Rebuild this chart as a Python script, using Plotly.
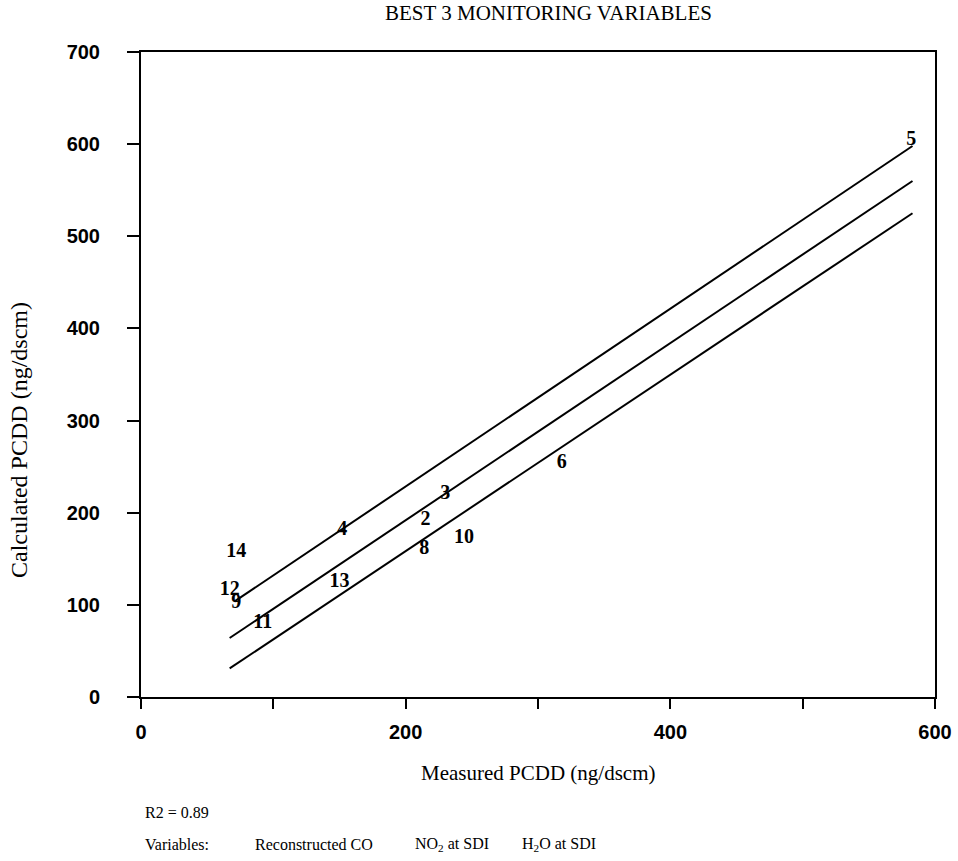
import plotly.graph_objects as go

# ---- data ----
point_labels = ["14", "12", "9", "11", "13", "4", "8", "2", "3", "10", "6", "5"]
measured =     [72,   67,   72,  92,   150,  152, 214, 215, 230, 244,  318, 582]
calculated =   [157,  116,  102, 80,   125,  181, 161, 192, 220, 173,  254, 605]

upper_x = [71, 583]
upper_y = [104, 598]
middle_x = [67, 583]
middle_y = [64, 560]
lower_x = [67, 583]
lower_y = [31, 525]

x_tickvals = [0, 200, 400, 600]
x_ticktext = ["0", "200", "400", "600"]
y_tickvals = [0, 100, 200, 300, 400, 500, 600, 700]
y_ticktext = ["0", "100", "200", "300", "400", "500", "600", "700"]

title_text = "BEST 3 MONITORING VARIABLES"
x_title = "Measured PCDD (ng/dscm)"
y_title = "Calculated PCDD (ng/dscm)"
r2_text = "R2 = 0.89"
var_label = "Variables:"
var_names = ["Reconstructed CO", "NO<sub>2</sub> at SDI", "H<sub>2</sub>O at SDI"]

SERIF = "Liberation Serif"
SANS = "Liberation Sans"

W, H = 958, 861
L, T = 141, 52
R = W - 935
B = H - 697
pw = W - L - R
ph = H - T - B

def px(xp):
    return (xp - L) / pw

def py(yp):
    return (H - B - yp) / ph

fig = go.Figure()
for xs, ys in [(upper_x, upper_y), (middle_x, middle_y), (lower_x, lower_y)]:
    fig.add_trace(go.Scatter(x=xs, y=ys, mode="lines",
                             line=dict(color="black", width=2),
                             showlegend=False, hoverinfo="skip"))

fig.add_trace(go.Scatter(x=measured, y=calculated, mode="text", text=point_labels,
                         textposition="middle center",
                         textfont=dict(family=SERIF, size=20, color="black", weight="bold"),
                         showlegend=False))

annotations = [
    dict(text=title_text, x=px(548), y=py(13), xref="paper", yref="paper",
         showarrow=False, font=dict(family=SERIF, size=21, color="black"),
         xanchor="center", yanchor="middle"),
    dict(text=x_title, x=px(538), y=py(773), xref="paper", yref="paper",
         showarrow=False, font=dict(family=SERIF, size=21, color="black"),
         xanchor="center", yanchor="middle"),
    dict(text=y_title, x=px(19), y=py(440), xref="paper", yref="paper",
         showarrow=False, textangle=-90, font=dict(family=SERIF, size=24, color="black"),
         xanchor="center", yanchor="middle"),
    dict(text=r2_text, x=px(143), y=py(812), xref="paper", yref="paper",
         showarrow=False, font=dict(family=SERIF, size=16, color="black"),
         xanchor="left", yanchor="middle"),
    dict(text=var_label, x=px(143), y=py(844), xref="paper", yref="paper",
         showarrow=False, font=dict(family=SERIF, size=16, color="black"),
         xanchor="left", yanchor="middle"),
]
for name, xl in zip(var_names, [253, 413, 520]):
    annotations.append(dict(text=name, x=px(xl), y=py(844), xref="paper", yref="paper",
                            showarrow=False, font=dict(family=SERIF, size=16, color="black"),
                            xanchor="left", yanchor="middle"))

fig.update_layout(
    width=W, height=H,
    margin=dict(l=L, r=R, t=T, b=B, autoexpand=False),
    paper_bgcolor="white", plot_bgcolor="white",
    annotations=annotations,
    showlegend=False,
)
fig.update_xaxes(range=[0, 600], tickvals=x_tickvals, ticktext=x_ticktext,
                 showgrid=False, zeroline=False, showline=True, linecolor="black",
                 linewidth=2, mirror=True, ticks="outside", ticklen=10, tickwidth=2,
                 tickcolor="black", ticklabelstandoff=6,
                 minor=dict(dtick=100, tick0=0, ticks="outside", ticklen=10,
                            tickwidth=2, tickcolor="black", showgrid=False),
                 tickfont=dict(family=SANS, size=20, color="black", weight="bold"))
fig.update_yaxes(range=[0, 700], tickvals=y_tickvals, ticktext=y_ticktext,
                 showgrid=False, zeroline=False, showline=True, linecolor="black",
                 linewidth=2, mirror=True, ticks="outside", ticklen=12, tickwidth=2,
                 tickcolor="black", ticklabelstandoff=23,
                 tickfont=dict(family=SANS, size=20, color="black", weight="bold"))

fig.write_html("out.html", config={"displayModeBar": False},
               post_script="document.body.style.margin='0';")
